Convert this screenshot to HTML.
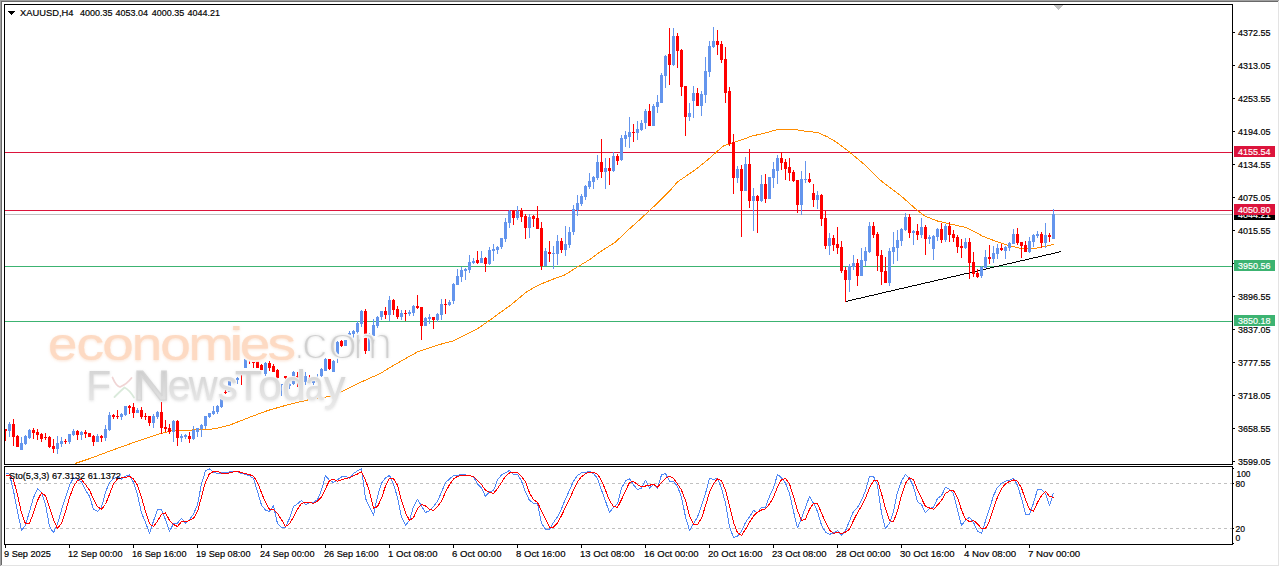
<!DOCTYPE html>
<html><head><meta charset="utf-8"><title>XAUUSD,H4</title>
<style>
html,body{margin:0;padding:0;background:#fff;}
body{width:1280px;height:567px;overflow:hidden;font-family:"Liberation Sans",sans-serif;}
svg{display:block;}
text{font-family:"Liberation Sans",sans-serif;}
</style></head><body>
<svg width="1280" height="567" viewBox="0 0 1280 567">
<defs>
<filter id="wb" x="-5%" y="-20%" width="110%" height="140%"><feGaussianBlur stdDeviation="1.6"/></filter>
<filter id="wb3" x="-5%" y="-20%" width="110%" height="140%"><feGaussianBlur stdDeviation="0.4"/></filter>
<filter id="wb2" x="-5%" y="-20%" width="110%" height="140%"><feGaussianBlur stdDeviation="0.5"/></filter>
<linearGradient id="gg" x1="0" y1="0" x2="0" y2="1"><stop offset="0" stop-color="#d0d0d0"/><stop offset="1" stop-color="#eaeaea"/></linearGradient>
<linearGradient id="gg2" x1="0" y1="0" x2="0" y2="1"><stop offset="0" stop-color="#c9c9c9"/><stop offset="1" stop-color="#e6e6e6"/></linearGradient>
<mask id="mcom" maskUnits="userSpaceOnUse" x="288" y="322" width="112" height="48"><rect x="288" y="322" width="112" height="48" fill="#000"/><text x="294.37" y="359" font-size="46" textLength="10.28" lengthAdjust="spacingAndGlyphs" fill="#fff" stroke="#000" stroke-width="2.2">.</text><text x="301.17" y="359" font-size="46" textLength="26.69" lengthAdjust="spacingAndGlyphs" fill="#fff" stroke="#000" stroke-width="2.2">c</text><text x="327.42" y="359" font-size="46" textLength="30.30" lengthAdjust="spacingAndGlyphs" fill="#fff" stroke="#000" stroke-width="2.2">o</text><text x="352.63" y="359" font-size="46" textLength="40.11" lengthAdjust="spacingAndGlyphs" fill="#fff" stroke="#000" stroke-width="2.2">m</text></mask>
</defs>
<rect width="1280" height="567" fill="#fff"/>
<!-- window frame -->
<g shape-rendering="crispEdges">
<rect x="0" y="0" width="1279" height="1" fill="#a0a0a0"/>
<rect x="0" y="0" width="1" height="566" fill="#a0a0a0"/>
<rect x="1" y="1" width="1277" height="1" fill="#696969"/>
<rect x="1" y="1" width="1" height="564" fill="#696969"/>
<rect x="1278" y="1" width="1" height="565" fill="#e3e3e3"/>
<rect x="1" y="565" width="1278" height="1" fill="#e3e3e3"/>
<!-- bid line -->
<rect x="5" y="214" width="1227" height="1" fill="#c0c0c0"/>
<!-- horizontal levels -->
<rect x="5" y="152" width="1227" height="1" fill="#dc143c"/>
<rect x="5" y="210" width="1227" height="1" fill="#dc143c"/>
<rect x="5" y="266" width="1227" height="1" fill="#3cb371"/>
<rect x="5" y="321" width="1227" height="1" fill="#3cb371"/>
<!-- MA -->
<polyline points="75.0,463.5 90.0,458.5 110.0,451.0 135.0,442.0 160.0,433.8 171.0,431.0 180.0,430.4 210.0,429.4 217.5,428.1 230.0,425.0 247.5,418.1 267.5,410.6 285.0,405.6 307.5,400.0 317.5,398.8 330.0,396.2 341.0,392.0 357.5,383.8 370.0,378.0 379.8,373.8 390.0,367.5 401.9,360.6 417.5,351.9 440.0,344.4 452.5,341.2 465.0,335.0 477.5,328.8 490.0,320.0 499.8,312.9 510.0,305.6 527.5,291.2 540.0,284.4 552.5,279.4 565.0,274.8 577.5,266.9 590.0,259.4 601.9,250.6 615.0,242.5 627.5,230.6 640.0,219.4 649.8,210.4 660.0,200.5 670.0,190.6 677.5,181.9 695.0,170.0 707.5,160.0 717.5,151.2 723.8,145.6 729.8,143.8 740.0,140.4 752.5,135.9 765.0,133.1 776.0,130.0 783.8,129.4 795.0,129.4 805.0,131.2 817.5,132.5 827.5,136.9 836.0,141.9 850.0,152.5 865.0,165.0 880.0,180.0 900.0,195.0 917.5,210.6 925.0,216.2 937.5,221.0 950.0,224.0 965.0,227.2 975.0,231.9 982.5,236.2 992.5,240.0 1005.0,244.4 1011.0,246.2 1017.0,247.5 1021.0,248.6 1034.0,248.6 1039.0,247.5 1045.0,246.4 1050.0,245.3 1053.5,244.2" fill="none" stroke="#ff8c00" stroke-width="1" stroke-linejoin="round"/>
</g>
<!-- trend line -->
<path d="M846 301h2v1h-2zM848 300h4v1h-4zM852 299h4v1h-4zM856 298h5v1h-5zM861 297h4v1h-4zM865 296h4v1h-4zM869 295h5v1h-5zM874 294h4v1h-4zM878 293h4v1h-4zM882 292h4v1h-4zM886 291h5v1h-5zM891 290h4v1h-4zM895 289h4v1h-4zM899 288h5v1h-5zM904 287h4v1h-4zM908 286h4v1h-4zM912 285h5v1h-5zM917 284h4v1h-4zM921 283h4v1h-4zM925 282h5v1h-5zM930 281h4v1h-4zM934 280h4v1h-4zM938 279h5v1h-5zM943 278h4v1h-4zM947 277h4v1h-4zM951 276h5v1h-5zM956 275h4v1h-4zM960 274h4v1h-4zM964 273h5v1h-5zM969 272h4v1h-4zM973 271h4v1h-4zM977 270h5v1h-5zM982 269h4v1h-4zM986 268h4v1h-4zM990 267h4v1h-4zM994 266h5v1h-5zM999 265h4v1h-4zM1003 264h4v1h-4zM1007 263h5v1h-5zM1012 262h4v1h-4zM1016 261h4v1h-4zM1020 260h5v1h-5zM1025 259h4v1h-4zM1029 258h4v1h-4zM1033 257h5v1h-5zM1038 256h4v1h-4zM1042 255h4v1h-4zM1046 254h5v1h-5zM1051 253h4v1h-4zM1055 252h4v1h-4zM1059 251h2v1h-2z" fill="#000" shape-rendering="crispEdges"/>
<g shape-rendering="crispEdges">
<!-- candles -->
<path d="M9 422h1v15h-1zM8 424h3v7h-3zM21 437h1v13h-1zM20 443h3v7h-3zM25 435h1v10h-1zM24 436h3v8h-3zM29 429h1v10h-1zM28 430h3v8h-3zM57 436h1v18h-1zM56 443h3v6h-3zM61 437h1v10h-1zM60 441h3v3h-3zM69 434h1v10h-1zM68 434h3v8h-3zM73 429h1v7h-1zM72 431h3v4h-3zM81 431h1v9h-1zM80 432h3v3h-3zM97 434h1v8h-1zM96 436h3v6h-3zM105 425h1v16h-1zM104 429h3v9h-3zM109 412h1v19h-1zM108 415h3v15h-3zM121 413h1v7h-1zM120 414h3v3h-3zM125 406h1v10h-1zM124 406h3v9h-3zM137 408h1v5h-1zM136 410h3v3h-3zM153 414h1v14h-1zM152 416h3v7h-3zM157 411h1v8h-1zM156 412h3v5h-3zM173 420h1v22h-1zM172 421h3v11h-3zM181 434h1v8h-1zM180 436h3v2h-3zM185 434h1v5h-1zM184 435h3v2h-3zM193 426h1v14h-1zM192 430h3v9h-3zM197 428h1v9h-1zM196 428h3v4h-3zM201 424h1v13h-1zM200 425h3v4h-3zM205 416h1v13h-1zM204 416h3v10h-3zM209 413h1v5h-1zM208 413h3v4h-3zM213 406h1v9h-1zM212 411h3v3h-3zM217 405h1v9h-1zM216 406h3v6h-3zM221 398h1v10h-1zM220 399h3v8h-3zM229 381h1v11h-1zM228 381h3v11h-3zM233 378h1v6h-1zM232 379h3v4h-3zM237 377h1v7h-1zM236 378h3v2h-3zM245 358h1v10h-1zM244 359h3v9h-3zM265 362h1v14h-1zM264 363h3v11h-3zM281 384h1v12h-1zM280 384h3v1h-3zM289 382h1v7h-1zM288 384h3v2h-3zM293 371h1v14h-1zM292 372h3v12h-3zM301 378h1v6h-1zM300 379h3v3h-3zM305 372h1v13h-1zM304 376h3v6h-3zM313 380h1v5h-1zM312 381h3v2h-3zM317 374h1v8h-1zM316 380h3v2h-3zM321 368h1v9h-1zM320 369h3v7h-3zM325 358h1v13h-1zM324 359h3v12h-3zM333 360h1v12h-1zM332 361h3v11h-3zM337 341h1v22h-1zM336 342h3v13h-3zM345 340h1v6h-1zM344 340h3v6h-3zM349 331h1v7h-1zM348 333h3v3h-3zM353 330h1v8h-1zM352 331h3v3h-3zM357 321h1v15h-1zM356 323h3v9h-3zM361 310h1v17h-1zM360 311h3v13h-3zM369 333h1v18h-1zM368 334h3v17h-3zM373 319h1v17h-1zM372 325h3v11h-3zM377 316h1v12h-1zM376 317h3v9h-3zM381 311h1v9h-1zM380 311h3v6h-3zM389 296h1v25h-1zM388 300h3v15h-3zM401 310h1v10h-1zM400 313h3v4h-3zM409 310h1v6h-1zM408 312h3v2h-3zM413 305h1v11h-1zM412 306h3v7h-3zM425 317h1v9h-1zM424 318h3v8h-3zM429 314h1v10h-1zM428 317h3v2h-3zM437 313h1v9h-1zM436 314h3v6h-3zM441 299h1v21h-1zM440 304h3v11h-3zM449 300h1v6h-1zM448 302h3v3h-3zM453 283h1v21h-1zM452 284h3v17h-3zM457 269h1v16h-1zM456 276h3v9h-3zM461 267h1v15h-1zM460 270h3v7h-3zM465 268h1v12h-1zM464 269h3v2h-3zM469 255h1v18h-1zM468 262h3v8h-3zM473 258h1v6h-1zM472 261h3v2h-3zM481 251h1v12h-1zM480 258h3v5h-3zM489 247h1v18h-1zM488 250h3v14h-3zM493 244h1v17h-1zM492 249h3v2h-3zM497 246h1v8h-1zM496 247h3v3h-3zM501 238h1v11h-1zM500 238h3v9h-3zM505 218h1v24h-1zM504 222h3v17h-3zM509 210h1v18h-1zM508 211h3v12h-3zM517 206h1v14h-1zM516 211h3v7h-3zM529 214h1v24h-1zM528 217h3v11h-3zM545 248h1v18h-1zM544 251h3v15h-3zM553 246h1v23h-1zM552 253h3v1h-3zM557 235h1v30h-1zM556 241h3v13h-3zM565 226h1v30h-1zM564 244h3v6h-3zM569 227h1v21h-1zM568 232h3v13h-3zM573 205h1v30h-1zM572 209h3v23h-3zM577 195h1v21h-1zM576 203h3v7h-3zM581 194h1v12h-1zM580 196h3v8h-3zM585 185h1v15h-1zM584 186h3v11h-3zM589 173h1v16h-1zM588 181h3v6h-3zM593 176h1v13h-1zM592 177h3v5h-3zM597 155h1v25h-1zM596 162h3v16h-3zM605 158h1v31h-1zM604 168h3v4h-3zM613 152h1v20h-1zM612 156h3v15h-3zM621 135h1v26h-1zM620 138h3v22h-3zM625 131h1v16h-1zM624 135h3v4h-3zM629 117h1v31h-1zM628 132h3v5h-3zM637 121h1v19h-1zM636 129h3v4h-3zM641 120h1v11h-1zM640 123h3v7h-3zM645 109h1v20h-1zM644 111h3v12h-3zM653 104h1v22h-1zM652 106h3v20h-3zM657 95h1v18h-1zM656 102h3v5h-3zM661 73h1v30h-1zM660 75h3v28h-3zM665 55h1v33h-1zM664 56h3v20h-3zM673 28h1v38h-1zM672 36h3v29h-3zM689 103h1v18h-1zM688 113h3v4h-3zM693 86h1v32h-1zM692 93h3v8h-3zM701 91h1v25h-1zM700 94h3v12h-3zM705 57h1v46h-1zM704 71h3v24h-3zM709 41h1v36h-1zM708 46h3v26h-3zM713 27h1v21h-1zM712 41h3v6h-3zM737 166h1v17h-1zM736 169h3v9h-3zM745 157h1v34h-1zM744 164h3v27h-3zM753 188h1v43h-1zM752 196h3v5h-3zM761 175h1v27h-1zM760 184h3v17h-3zM769 177h1v22h-1zM768 177h3v22h-3zM773 162h1v26h-1zM772 169h3v9h-3zM777 155h1v29h-1zM776 158h3v13h-3zM801 171h1v44h-1zM800 179h3v26h-3zM805 161h1v22h-1zM804 179h3v1h-3zM817 191h1v18h-1zM816 195h3v5h-3zM829 233h1v22h-1zM828 238h3v8h-3zM849 264h1v28h-1zM848 266h3v14h-3zM853 255h1v15h-1zM852 263h3v4h-3zM861 248h1v28h-1zM860 260h3v16h-3zM865 247h1v19h-1zM864 251h3v10h-3zM869 222h1v31h-1zM868 226h3v26h-3zM889 248h1v38h-1zM888 251h3v32h-3zM893 232h1v32h-1zM892 247h3v5h-3zM897 230h1v31h-1zM896 240h3v8h-3zM901 228h1v18h-1zM900 229h3v12h-3zM905 213h1v18h-1zM904 217h3v13h-3zM913 230h1v15h-1zM912 231h3v2h-3zM921 218h1v20h-1zM920 227h3v8h-3zM929 235h1v9h-1zM928 237h3v2h-3zM933 235h1v25h-1zM932 236h3v13h-3zM937 228h1v13h-1zM936 229h3v8h-3zM945 224h1v18h-1zM944 226h3v14h-3zM965 238h1v11h-1zM964 242h3v6h-3zM981 266h1v12h-1zM980 267h3v9h-3zM985 250h1v18h-1zM984 257h3v11h-3zM993 246h1v17h-1zM992 253h3v6h-3zM997 244h1v15h-1zM996 248h3v6h-3zM1005 246h1v13h-1zM1004 247h3v4h-3zM1009 242h1v9h-1zM1008 243h3v5h-3zM1013 229h1v15h-1zM1012 234h3v10h-3zM1029 237h1v16h-1zM1028 241h3v11h-3zM1033 234h1v13h-1zM1032 235h3v7h-3zM1037 231h1v7h-1zM1036 234h3v2h-3zM1045 223h1v25h-1zM1044 235h3v8h-3zM1053 209h1v30h-1zM1052 214h3v25h-3z" fill="#6495ed"/>
<path d="M5 429h1v12h-1zM4 429h3v2h-3zM13 419h1v27h-1zM12 424h3v13h-3zM17 435h1v12h-1zM16 436h3v11h-3zM33 428h1v11h-1zM32 430h3v3h-3zM37 429h1v11h-1zM36 432h3v3h-3zM41 433h1v9h-1zM40 434h3v5h-3zM45 433h1v7h-1zM44 437h3v1h-3zM49 436h1v12h-1zM48 437h3v10h-3zM53 439h1v14h-1zM52 446h3v3h-3zM65 439h1v5h-1zM64 441h3v1h-3zM77 430h1v10h-1zM76 431h3v4h-3zM85 430h1v8h-1zM84 432h3v2h-3zM89 433h1v4h-1zM88 433h3v4h-3zM93 435h1v11h-1zM92 436h3v6h-3zM101 435h1v7h-1zM100 436h3v2h-3zM113 414h1v5h-1zM112 415h3v2h-3zM117 410h1v9h-1zM116 416h3v1h-3zM129 405h1v9h-1zM128 406h3v2h-3zM133 403h1v15h-1zM132 407h3v6h-3zM141 407h1v12h-1zM140 410h3v7h-3zM145 413h1v7h-1zM144 416h3v1h-3zM149 416h1v10h-1zM148 416h3v7h-3zM161 402h1v32h-1zM160 412h3v16h-3zM165 420h1v12h-1zM164 427h3v2h-3zM169 424h1v10h-1zM168 428h3v4h-3zM177 420h1v26h-1zM176 421h3v17h-3zM189 432h1v11h-1zM188 436h3v3h-3zM225 389h1v5h-1zM224 392h3v1h-3zM241 370h1v15h-1zM240 371h3v3h-3zM249 359h1v5h-1zM248 359h3v2h-3zM253 361h1v7h-1zM252 361h3v2h-3zM257 361h1v7h-1zM256 361h3v7h-3zM261 364h1v10h-1zM260 365h3v5h-3zM269 361h1v10h-1zM268 363h3v5h-3zM273 364h1v8h-1zM272 366h3v6h-3zM277 369h1v10h-1zM276 370h3v8h-3zM285 376h1v4h-1zM284 376h3v2h-3zM297 372h1v15h-1zM296 376h3v6h-3zM309 375h1v9h-1zM308 378h3v4h-3zM329 359h1v11h-1zM328 359h3v10h-3zM341 340h1v7h-1zM340 341h3v5h-3zM365 309h1v45h-1zM364 311h3v40h-3zM385 307h1v12h-1zM384 311h3v4h-3zM393 299h1v16h-1zM392 300h3v10h-3zM397 306h1v13h-1zM396 309h3v8h-3zM405 310h1v11h-1zM404 313h3v1h-3zM417 295h1v14h-1zM416 306h3v2h-3zM421 307h1v33h-1zM420 307h3v19h-3zM433 317h1v12h-1zM432 317h3v3h-3zM445 299h1v15h-1zM444 304h3v1h-3zM477 251h1v13h-1zM476 260h3v3h-3zM485 257h1v15h-1zM484 258h3v6h-3zM513 210h1v15h-1zM512 211h3v7h-3zM521 208h1v14h-1zM520 210h3v7h-3zM525 214h1v25h-1zM524 216h3v12h-3zM533 215h1v12h-1zM532 216h3v3h-3zM537 206h1v23h-1zM536 218h3v11h-3zM541 222h1v48h-1zM540 228h3v38h-3zM549 241h1v21h-1zM548 252h3v2h-3zM561 238h1v15h-1zM560 241h3v9h-3zM601 139h1v39h-1zM600 162h3v10h-3zM609 158h1v27h-1zM608 168h3v3h-3zM617 154h1v11h-1zM616 156h3v5h-3zM633 124h1v18h-1zM632 132h3v1h-3zM649 104h1v22h-1zM648 111h3v15h-3zM669 28h1v57h-1zM668 54h3v11h-3zM677 33h1v35h-1zM676 36h3v15h-3zM681 49h1v47h-1zM680 50h3v37h-3zM685 86h1v50h-1zM684 86h3v31h-3zM697 88h1v18h-1zM696 93h3v13h-3zM717 30h1v25h-1zM716 41h3v4h-3zM721 41h1v22h-1zM720 44h3v16h-3zM725 47h1v56h-1zM724 59h3v34h-3zM729 87h1v59h-1zM728 91h3v53h-3zM733 134h1v60h-1zM732 142h3v36h-3zM741 165h1v72h-1zM740 169h3v22h-3zM749 149h1v59h-1zM748 164h3v37h-3zM757 195h1v38h-1zM756 196h3v5h-3zM765 174h1v29h-1zM764 184h3v15h-3zM781 152h1v18h-1zM780 158h3v5h-3zM785 159h1v21h-1zM784 162h3v7h-3zM789 158h1v23h-1zM788 167h3v6h-3zM793 170h1v12h-1zM792 172h3v9h-3zM797 180h1v33h-1zM796 180h3v25h-3zM809 173h1v10h-1zM808 179h3v3h-3zM813 184h1v23h-1zM812 193h3v7h-3zM821 194h1v32h-1zM820 195h3v24h-3zM825 211h1v38h-1zM824 218h3v28h-3zM833 235h1v16h-1zM832 238h3v7h-3zM837 227h1v27h-1zM836 244h3v4h-3zM841 241h1v32h-1zM840 247h3v24h-3zM845 267h1v35h-1zM844 270h3v10h-3zM857 259h1v27h-1zM856 263h3v13h-3zM873 222h1v16h-1zM872 226h3v9h-3zM877 232h1v39h-1zM876 234h3v22h-3zM881 250h1v35h-1zM880 255h3v17h-3zM885 257h1v26h-1zM884 271h3v12h-3zM909 214h1v24h-1zM908 217h3v16h-3zM917 224h1v16h-1zM916 231h3v4h-3zM925 225h1v30h-1zM924 227h3v12h-3zM941 223h1v20h-1zM940 229h3v11h-3zM949 222h1v20h-1zM948 226h3v9h-3zM953 230h1v12h-1zM952 234h3v4h-3zM957 235h1v18h-1zM956 237h3v10h-3zM961 239h1v19h-1zM960 246h3v2h-3zM969 238h1v41h-1zM968 242h3v21h-3zM973 252h1v25h-1zM972 262h3v12h-3zM977 269h1v9h-1zM976 273h3v4h-3zM989 245h1v19h-1zM988 257h3v2h-3zM1001 244h1v7h-1zM1000 248h3v2h-3zM1017 228h1v17h-1zM1016 234h3v9h-3zM1021 242h1v16h-1zM1020 242h3v4h-3zM1025 241h1v11h-1zM1024 245h3v7h-3zM1041 232h1v16h-1zM1040 234h3v9h-3zM1049 233h1v9h-1zM1048 235h3v2h-3z" fill="#ff0000"/>
</g>
<!-- watermark -->
<g id="wm">
<g filter="url(#wb3)" fill="#fff" stroke="#fff" stroke-width="4" stroke-linejoin="round">
<text x="47.99" y="360" font-size="45.5" textLength="29.35" lengthAdjust="spacingAndGlyphs" >e</text>
<text x="76.40" y="360" font-size="45.5" textLength="27.56" lengthAdjust="spacingAndGlyphs" >c</text>
<text x="102.33" y="360" font-size="45.5" textLength="31.60" lengthAdjust="spacingAndGlyphs" >o</text>
<text x="131.87" y="360" font-size="45.5" textLength="30.46" lengthAdjust="spacingAndGlyphs" >n</text>
<text x="160.30" y="360" font-size="45.5" textLength="30.65" lengthAdjust="spacingAndGlyphs" >o</text>
<text x="188.40" y="360" font-size="45.5" textLength="45.23" lengthAdjust="spacingAndGlyphs" >m</text>
<text x="228.68" y="360" font-size="45.5" textLength="15.00" lengthAdjust="spacingAndGlyphs" >i</text>
<text x="239.70" y="360" font-size="45.5" textLength="30.53" lengthAdjust="spacingAndGlyphs" >e</text>
<text x="267.58" y="360" font-size="45.5" textLength="28.60" lengthAdjust="spacingAndGlyphs" >s</text>
<text x="294.37" y="359" font-size="46" textLength="10.28" lengthAdjust="spacingAndGlyphs" stroke-width="1.0">.</text>
<text x="301.17" y="359" font-size="46" textLength="26.69" lengthAdjust="spacingAndGlyphs" stroke-width="1.0">c</text>
<text x="327.42" y="359" font-size="46" textLength="30.30" lengthAdjust="spacingAndGlyphs" stroke-width="1.0">o</text>
<text x="352.63" y="359" font-size="46" textLength="40.11" lengthAdjust="spacingAndGlyphs" stroke-width="1.0">m</text>
<text x="86.13" y="400" font-size="42" textLength="24.94" lengthAdjust="spacingAndGlyphs" stroke-width="2.2">F</text>
<text x="167.75" y="400" font-size="42" textLength="22.90" lengthAdjust="spacingAndGlyphs" stroke-width="2.2">e</text>
<text x="188.75" y="400" font-size="42" textLength="28.84" lengthAdjust="spacingAndGlyphs" stroke-width="2.2">w</text>
<text x="217.53" y="400" font-size="42" textLength="20.35" lengthAdjust="spacingAndGlyphs" stroke-width="2.2">s</text>
<text x="234.70" y="400" font-size="42" textLength="27.49" lengthAdjust="spacingAndGlyphs" stroke-width="2.2">T</text>
<text x="258.30" y="400" font-size="42" textLength="23.67" lengthAdjust="spacingAndGlyphs" stroke-width="2.2">o</text>
<text x="282.03" y="400" font-size="42" textLength="23.92" lengthAdjust="spacingAndGlyphs" stroke-width="2.2">d</text>
<text x="304.90" y="400" font-size="42" textLength="18.72" lengthAdjust="spacingAndGlyphs" stroke-width="2.2">a</text>
<text x="323.75" y="400" font-size="42" textLength="21.85" lengthAdjust="spacingAndGlyphs" stroke-width="2.2">y</text>
<text x="132.82" y="400" font-size="42" textLength="37.72" lengthAdjust="spacingAndGlyphs" stroke-width="2.2">N</text>
<path d="M112.5 377.5 q3.5 8.5 7.5 9.5 q7 -3 11.5 -9M114.5 397 q6 -6 10 -9.5 q5 2.5 9.5 10" fill="none" stroke-width="5"/>
</g>
<g filter="url(#wb)" opacity="0.5">
<text x="47.99" y="361" font-size="45.5" textLength="29.35" lengthAdjust="spacingAndGlyphs" fill="#f6c4a2">e</text>
<text x="76.40" y="361" font-size="45.5" textLength="27.56" lengthAdjust="spacingAndGlyphs" fill="#f6c4a2">c</text>
<text x="102.33" y="361" font-size="45.5" textLength="31.60" lengthAdjust="spacingAndGlyphs" fill="#f6c4a2">o</text>
<text x="131.87" y="361" font-size="45.5" textLength="30.46" lengthAdjust="spacingAndGlyphs" fill="#f6c4a2">n</text>
<text x="160.30" y="361" font-size="45.5" textLength="30.65" lengthAdjust="spacingAndGlyphs" fill="#f6c4a2">o</text>
<text x="188.40" y="361" font-size="45.5" textLength="45.23" lengthAdjust="spacingAndGlyphs" fill="#f6c4a2">m</text>
<text x="228.68" y="361" font-size="45.5" textLength="15.00" lengthAdjust="spacingAndGlyphs" fill="#f6c4a2">i</text>
<text x="239.70" y="361" font-size="45.5" textLength="30.53" lengthAdjust="spacingAndGlyphs" fill="#f6c4a2">e</text>
<text x="267.58" y="361" font-size="45.5" textLength="28.60" lengthAdjust="spacingAndGlyphs" fill="#f6c4a2">s</text>
<rect x="288" y="323" width="112" height="48" fill="#a8a8a8" mask="url(#mcom)"/>
<text x="86.13" y="401" font-size="42" textLength="24.94" lengthAdjust="spacingAndGlyphs" fill="#bdbdbd">F</text>
<text x="167.75" y="401" font-size="42" textLength="22.90" lengthAdjust="spacingAndGlyphs" fill="#bdbdbd">e</text>
<text x="188.75" y="401" font-size="42" textLength="28.84" lengthAdjust="spacingAndGlyphs" fill="#bdbdbd">w</text>
<text x="217.53" y="401" font-size="42" textLength="20.35" lengthAdjust="spacingAndGlyphs" fill="#bdbdbd">s</text>
<text x="234.70" y="401" font-size="42" textLength="27.49" lengthAdjust="spacingAndGlyphs" fill="#bdbdbd">T</text>
<text x="258.30" y="401" font-size="42" textLength="23.67" lengthAdjust="spacingAndGlyphs" fill="#bdbdbd">o</text>
<text x="282.03" y="401" font-size="42" textLength="23.92" lengthAdjust="spacingAndGlyphs" fill="#bdbdbd">d</text>
<text x="304.90" y="401" font-size="42" textLength="18.72" lengthAdjust="spacingAndGlyphs" fill="#bdbdbd">a</text>
<text x="323.75" y="401" font-size="42" textLength="21.85" lengthAdjust="spacingAndGlyphs" fill="#bdbdbd">y</text>
<text x="132.82" y="401" font-size="42" textLength="37.72" lengthAdjust="spacingAndGlyphs" fill="#b4b4b4" stroke="#b4b4b4" stroke-width="1.0">N</text>
</g>
<g filter="url(#wb2)">
<text x="47.99" y="360" font-size="45.5" textLength="29.35" lengthAdjust="spacingAndGlyphs" fill="#fddac3" stroke="#fddac3" stroke-width="0.2">e</text>
<text x="76.40" y="360" font-size="45.5" textLength="27.56" lengthAdjust="spacingAndGlyphs" fill="#fddac3" stroke="#fddac3" stroke-width="0.2">c</text>
<text x="102.33" y="360" font-size="45.5" textLength="31.60" lengthAdjust="spacingAndGlyphs" fill="#fddac3" stroke="#fddac3" stroke-width="0.2">o</text>
<text x="131.87" y="360" font-size="45.5" textLength="30.46" lengthAdjust="spacingAndGlyphs" fill="#fddac3" stroke="#fddac3" stroke-width="0.2">n</text>
<text x="160.30" y="360" font-size="45.5" textLength="30.65" lengthAdjust="spacingAndGlyphs" fill="#fddac3" stroke="#fddac3" stroke-width="0.2">o</text>
<text x="188.40" y="360" font-size="45.5" textLength="45.23" lengthAdjust="spacingAndGlyphs" fill="#fddac3" stroke="#fddac3" stroke-width="0.2">m</text>
<text x="228.68" y="360" font-size="45.5" textLength="15.00" lengthAdjust="spacingAndGlyphs" fill="#fddac3" stroke="#fddac3" stroke-width="0.2">i</text>
<text x="239.70" y="360" font-size="45.5" textLength="30.53" lengthAdjust="spacingAndGlyphs" fill="#fddac3" stroke="#fddac3" stroke-width="0.2">e</text>
<text x="267.58" y="360" font-size="45.5" textLength="28.60" lengthAdjust="spacingAndGlyphs" fill="#fddac3" stroke="#fddac3" stroke-width="0.2">s</text>
<rect x="288" y="322" width="112" height="48" fill="#d0d0d0" mask="url(#mcom)"/>
<text x="86.13" y="400" font-size="42" textLength="24.94" lengthAdjust="spacingAndGlyphs" fill="url(#gg)">F</text>
<text x="167.75" y="400" font-size="42" textLength="22.90" lengthAdjust="spacingAndGlyphs" fill="url(#gg)">e</text>
<text x="188.75" y="400" font-size="42" textLength="28.84" lengthAdjust="spacingAndGlyphs" fill="url(#gg)">w</text>
<text x="217.53" y="400" font-size="42" textLength="20.35" lengthAdjust="spacingAndGlyphs" fill="url(#gg)">s</text>
<text x="234.70" y="400" font-size="42" textLength="27.49" lengthAdjust="spacingAndGlyphs" fill="url(#gg)">T</text>
<text x="258.30" y="400" font-size="42" textLength="23.67" lengthAdjust="spacingAndGlyphs" fill="url(#gg)">o</text>
<text x="282.03" y="400" font-size="42" textLength="23.92" lengthAdjust="spacingAndGlyphs" fill="url(#gg)">d</text>
<text x="304.90" y="400" font-size="42" textLength="18.72" lengthAdjust="spacingAndGlyphs" fill="url(#gg)">a</text>
<text x="323.75" y="400" font-size="42" textLength="21.85" lengthAdjust="spacingAndGlyphs" fill="url(#gg)">y</text>
<text x="132.82" y="400" font-size="42" textLength="37.72" lengthAdjust="spacingAndGlyphs" fill="url(#gg2)" stroke="#d6d6d6" stroke-width="1.0">N</text>
<path d="M112.5 377.5 q3.5 8.5 7.5 9.5 q7 -3 11.5 -9" fill="none" stroke="#f0d4d4" stroke-width="1.8" stroke-linecap="round"/>
<path d="M114.5 397 q6 -6 10 -9.5 q5 2.5 9.5 10" fill="none" stroke="#daeadb" stroke-width="1.8" stroke-linecap="round"/>
</g>
</g>
<g shape-rendering="crispEdges">
<!-- main chart border -->
<rect x="4" y="4" width="1229" height="1" fill="#000"/>
<rect x="4" y="4" width="1" height="461" fill="#000"/>
<rect x="4" y="464" width="1229" height="1" fill="#000"/>
<rect x="1232" y="4" width="1" height="461" fill="#000"/>
<rect x="1232" y="466" width="1" height="79" fill="#000"/>
<!-- sub window border -->
<rect x="4" y="466" width="1229" height="1" fill="#000"/>
<rect x="4" y="466" width="1" height="79" fill="#000"/>
<rect x="4" y="544" width="1229" height="1" fill="#000"/>
<!-- shift marker -->
<path d="M1054 5h9v1h-1v1h-1v1h-1v1h-1v1h-1v-1h-1v-1h-1v-1h-1v-1h-1z" fill="#c0c0c0"/>
<!-- header triangle -->
<path d="M8 11h7v1h-1v1h-1v1h-1v1h-1v-1h-1v-1h-1v-1h-1z" fill="#000"/>
<!-- stochastic levels -->
<line x1="6" y1="483.5" x2="1232" y2="483.5" stroke="#c0c0c0" stroke-width="1" stroke-dasharray="3 3"/>
<line x1="6" y1="528.5" x2="1232" y2="528.5" stroke="#c0c0c0" stroke-width="1" stroke-dasharray="3 3"/>
</g>
<polyline points="5.5,472.9 9.5,474.3 13.5,490.8 17.5,511.4 21.5,530.4 25.5,525.2 29.5,511.4 33.5,497.6 37.5,488.7 41.5,492.8 45.5,504.5 49.5,526.5 53.5,532.7 57.5,523.8 61.5,510.0 65.5,497.6 69.5,485.3 73.5,477.7 77.5,479.1 81.5,481.8 85.5,490.1 89.5,496.3 93.5,509.3 97.5,511.4 101.5,507.3 105.5,492.1 109.5,482.5 113.5,478.4 117.5,477.0 121.5,479.1 125.5,476.3 129.5,474.9 133.5,482.5 137.5,494.9 141.5,512.8 145.5,522.4 149.5,533.4 153.5,521.0 157.5,509.8 161.5,509.8 165.5,519.7 169.5,531.4 173.5,523.5 177.5,523.1 181.5,518.3 185.5,523.1 189.5,519.7 193.5,514.2 197.5,504.5 201.5,483.9 205.5,470.8 209.5,469.0 213.5,472.2 217.5,473.6 221.5,472.9 225.5,472.9 229.5,471.8 233.5,471.5 237.5,471.8 241.5,473.6 245.5,474.3 249.5,475.9 253.5,478.4 257.5,491.5 261.5,505.2 265.5,510.0 269.5,511.4 273.5,505.6 277.5,523.8 281.5,527.2 285.5,527.2 289.5,518.3 293.5,506.6 297.5,503.8 301.5,500.4 305.5,504.5 309.5,502.9 313.5,502.5 317.5,499.7 321.5,490.1 325.5,475.6 329.5,480.4 333.5,482.5 337.5,479.8 341.5,477.0 345.5,476.3 349.5,478.4 353.5,473.6 357.5,470.8 361.5,469.0 365.5,498.3 369.5,507.3 373.5,515.3 377.5,496.3 381.5,483.2 385.5,477.7 389.5,475.4 393.5,483.9 397.5,497.6 401.5,516.9 405.5,525.4 409.5,520.4 413.5,506.6 417.5,499.3 421.5,505.9 425.5,512.5 429.5,510.7 433.5,506.6 437.5,501.1 441.5,492.1 445.5,482.5 449.5,479.1 453.5,475.4 457.5,475.4 461.5,474.5 465.5,474.9 469.5,475.4 473.5,477.0 477.5,483.9 481.5,488.0 485.5,496.5 489.5,491.5 493.5,490.8 497.5,479.8 501.5,474.9 505.5,472.9 509.5,470.4 513.5,474.3 517.5,474.3 521.5,481.1 525.5,492.1 529.5,500.4 533.5,503.2 537.5,503.4 541.5,523.1 545.5,529.3 549.5,529.3 553.5,522.4 557.5,516.9 561.5,508.7 565.5,499.0 569.5,490.1 573.5,481.1 577.5,475.4 581.5,472.9 585.5,472.2 589.5,471.5 593.5,473.6 597.5,478.4 601.5,490.1 605.5,501.1 609.5,512.5 613.5,507.3 617.5,503.8 621.5,488.0 625.5,481.1 629.5,478.7 633.5,485.0 637.5,489.4 641.5,488.0 645.5,480.4 649.5,488.0 653.5,484.6 657.5,488.0 661.5,474.9 665.5,473.6 669.5,481.1 673.5,481.4 677.5,486.6 681.5,497.0 685.5,516.9 689.5,530.4 693.5,523.8 697.5,516.9 701.5,505.9 705.5,493.5 709.5,478.1 713.5,479.5 717.5,478.4 721.5,488.0 725.5,503.2 729.5,526.5 733.5,537.6 737.5,536.2 741.5,531.4 745.5,522.4 749.5,516.9 753.5,510.3 757.5,512.8 761.5,507.3 765.5,507.3 769.5,496.3 773.5,488.0 777.5,474.5 781.5,477.7 785.5,483.2 789.5,493.5 793.5,511.4 797.5,527.9 801.5,518.3 805.5,507.3 809.5,496.5 813.5,503.2 817.5,511.4 821.5,525.2 825.5,532.1 829.5,534.5 833.5,532.7 837.5,530.7 841.5,535.1 845.5,530.7 849.5,521.0 853.5,511.4 857.5,507.3 861.5,500.4 865.5,490.8 869.5,476.3 873.5,476.3 877.5,485.3 881.5,512.8 885.5,528.6 889.5,523.1 893.5,511.4 897.5,492.1 901.5,481.1 905.5,474.3 909.5,478.4 913.5,486.6 917.5,501.8 921.5,504.5 925.5,512.8 929.5,508.7 933.5,507.3 937.5,498.3 941.5,495.6 945.5,487.3 949.5,489.4 953.5,493.5 957.5,510.0 961.5,525.4 965.5,520.4 969.5,517.2 973.5,522.4 977.5,531.4 981.5,533.4 985.5,521.0 989.5,508.7 993.5,495.6 997.5,487.3 1001.5,483.2 1005.5,481.1 1009.5,480.4 1013.5,478.1 1017.5,485.3 1021.5,498.3 1025.5,514.2 1029.5,514.2 1033.5,503.2 1037.5,489.4 1041.5,489.4 1045.5,493.5 1049.5,505.9 1053.5,492.8" fill="none" stroke="#5088f5" stroke-width="1" stroke-linejoin="round" shape-rendering="crispEdges"/>
<polyline points="5.5,475.4 9.5,475.4 13.5,479.8 17.5,494.9 21.5,512.8 25.5,523.8 29.5,523.1 33.5,512.8 37.5,500.4 41.5,492.8 45.5,495.6 49.5,507.3 53.5,519.7 57.5,528.6 61.5,523.1 65.5,511.4 69.5,497.6 73.5,486.6 77.5,480.4 81.5,479.5 85.5,484.6 89.5,490.1 93.5,499.0 97.5,506.6 101.5,509.3 105.5,504.5 109.5,494.2 113.5,483.9 117.5,479.1 121.5,477.7 125.5,477.3 129.5,476.3 133.5,479.1 137.5,485.3 141.5,497.6 145.5,511.4 149.5,523.8 153.5,526.5 157.5,521.0 161.5,514.2 165.5,512.8 169.5,520.4 173.5,524.5 177.5,526.5 181.5,521.7 185.5,521.7 189.5,520.4 193.5,518.3 197.5,511.4 201.5,497.0 205.5,481.8 209.5,473.6 213.5,471.5 217.5,471.5 221.5,473.2 225.5,473.6 229.5,472.9 233.5,471.8 237.5,471.5 241.5,472.5 245.5,473.6 249.5,474.5 253.5,476.3 257.5,482.5 261.5,492.8 265.5,502.5 269.5,509.3 273.5,509.3 277.5,513.5 281.5,519.7 285.5,526.5 289.5,523.8 293.5,516.9 297.5,509.3 301.5,503.2 305.5,502.5 309.5,502.5 313.5,503.2 317.5,501.1 321.5,497.0 325.5,488.7 329.5,480.4 333.5,479.5 337.5,481.1 341.5,479.8 345.5,478.4 349.5,477.7 353.5,475.6 357.5,474.0 361.5,471.5 365.5,480.4 369.5,491.5 373.5,508.4 377.5,506.6 381.5,498.3 385.5,486.0 389.5,478.4 393.5,478.7 397.5,485.3 401.5,500.4 405.5,512.8 409.5,520.4 413.5,517.6 417.5,508.7 421.5,504.3 425.5,505.9 429.5,509.3 433.5,510.3 437.5,506.6 441.5,501.1 445.5,492.1 449.5,484.6 453.5,479.1 457.5,476.3 461.5,475.4 465.5,475.4 469.5,475.4 473.5,476.7 477.5,480.4 481.5,484.6 485.5,490.1 489.5,492.1 493.5,493.5 497.5,488.7 501.5,482.5 505.5,476.3 509.5,472.9 513.5,472.2 517.5,472.6 521.5,476.3 525.5,481.8 529.5,492.8 533.5,499.7 537.5,502.5 541.5,510.7 545.5,519.0 549.5,527.2 553.5,527.2 557.5,523.1 561.5,515.5 565.5,507.3 569.5,499.0 573.5,490.1 577.5,481.8 581.5,476.7 585.5,473.6 589.5,472.2 593.5,472.2 597.5,474.3 601.5,480.4 605.5,490.1 609.5,500.4 613.5,506.6 617.5,507.3 621.5,499.7 625.5,490.8 629.5,482.5 633.5,481.4 637.5,484.6 641.5,486.9 645.5,486.0 649.5,485.3 653.5,484.2 657.5,487.3 661.5,482.5 665.5,478.4 669.5,476.3 673.5,478.4 677.5,483.9 681.5,490.1 685.5,500.4 689.5,515.5 693.5,524.5 697.5,524.5 701.5,518.3 705.5,505.9 709.5,492.1 713.5,483.9 717.5,478.7 721.5,480.9 725.5,490.1 729.5,505.9 733.5,522.4 737.5,532.7 741.5,535.5 745.5,529.3 749.5,522.4 753.5,516.2 757.5,512.1 761.5,510.0 765.5,508.9 769.5,503.8 773.5,497.4 777.5,486.6 781.5,479.8 785.5,478.4 789.5,483.9 793.5,496.3 797.5,510.7 801.5,520.4 805.5,519.0 809.5,509.3 813.5,503.4 817.5,503.8 821.5,512.8 825.5,522.4 829.5,530.0 833.5,533.4 837.5,532.3 841.5,533.4 845.5,532.1 849.5,529.3 853.5,520.4 857.5,512.8 861.5,505.9 865.5,498.3 869.5,488.0 873.5,480.9 877.5,480.4 881.5,493.5 885.5,508.7 889.5,520.4 893.5,521.7 897.5,510.7 901.5,495.6 905.5,483.2 909.5,477.7 913.5,479.8 917.5,490.1 921.5,498.3 925.5,506.6 929.5,508.0 933.5,509.3 937.5,505.2 941.5,500.4 945.5,493.5 949.5,490.8 953.5,490.5 957.5,497.6 961.5,510.0 965.5,519.0 969.5,521.7 973.5,520.4 977.5,523.8 981.5,528.6 985.5,528.6 989.5,521.0 993.5,508.7 997.5,497.0 1001.5,488.7 1005.5,483.9 1009.5,481.4 1013.5,480.0 1017.5,481.1 1021.5,488.0 1025.5,499.7 1029.5,509.3 1033.5,511.4 1037.5,502.5 1041.5,495.6 1045.5,491.5 1049.5,496.3 1053.5,497.6" fill="none" stroke="#ff0000" stroke-width="1" stroke-linejoin="round" shape-rendering="crispEdges"/>
<g shape-rendering="crispEdges">
<rect x="1233" y="32" width="2" height="1" fill="#000"/>
<text x="1238" y="36" font-size="9.6" fill="#000" stroke="#000" stroke-width="0.18" text-anchor="start" textLength="32.5" lengthAdjust="spacingAndGlyphs">4372.55</text>
<rect x="1233" y="65" width="2" height="1" fill="#000"/>
<text x="1238" y="69" font-size="9.6" fill="#000" stroke="#000" stroke-width="0.18" text-anchor="start" textLength="32.5" lengthAdjust="spacingAndGlyphs">4313.05</text>
<rect x="1233" y="98" width="2" height="1" fill="#000"/>
<text x="1238" y="102" font-size="9.6" fill="#000" stroke="#000" stroke-width="0.18" text-anchor="start" textLength="32.5" lengthAdjust="spacingAndGlyphs">4253.55</text>
<rect x="1233" y="131" width="2" height="1" fill="#000"/>
<text x="1238" y="135" font-size="9.6" fill="#000" stroke="#000" stroke-width="0.18" text-anchor="start" textLength="32.5" lengthAdjust="spacingAndGlyphs">4194.05</text>
<rect x="1233" y="164" width="2" height="1" fill="#000"/>
<text x="1238" y="168" font-size="9.6" fill="#000" stroke="#000" stroke-width="0.18" text-anchor="start" textLength="32.5" lengthAdjust="spacingAndGlyphs">4134.55</text>
<rect x="1233" y="197" width="2" height="1" fill="#000"/>
<text x="1238" y="201" font-size="9.6" fill="#000" stroke="#000" stroke-width="0.18" text-anchor="start" textLength="32.5" lengthAdjust="spacingAndGlyphs">4075.05</text>
<rect x="1233" y="230" width="2" height="1" fill="#000"/>
<text x="1238" y="234" font-size="9.6" fill="#000" stroke="#000" stroke-width="0.18" text-anchor="start" textLength="32.5" lengthAdjust="spacingAndGlyphs">4015.55</text>
<rect x="1233" y="263" width="2" height="1" fill="#000"/>
<text x="1238" y="267" font-size="9.6" fill="#000" stroke="#000" stroke-width="0.18" text-anchor="start" textLength="32.5" lengthAdjust="spacingAndGlyphs">3956.05</text>
<rect x="1233" y="296" width="2" height="1" fill="#000"/>
<text x="1238" y="300" font-size="9.6" fill="#000" stroke="#000" stroke-width="0.18" text-anchor="start" textLength="32.5" lengthAdjust="spacingAndGlyphs">3896.55</text>
<rect x="1233" y="329" width="2" height="1" fill="#000"/>
<text x="1238" y="333" font-size="9.6" fill="#000" stroke="#000" stroke-width="0.18" text-anchor="start" textLength="32.5" lengthAdjust="spacingAndGlyphs">3837.05</text>
<rect x="1233" y="362" width="2" height="1" fill="#000"/>
<text x="1238" y="366" font-size="9.6" fill="#000" stroke="#000" stroke-width="0.18" text-anchor="start" textLength="32.5" lengthAdjust="spacingAndGlyphs">3777.55</text>
<rect x="1233" y="395" width="2" height="1" fill="#000"/>
<text x="1238" y="399" font-size="9.6" fill="#000" stroke="#000" stroke-width="0.18" text-anchor="start" textLength="32.5" lengthAdjust="spacingAndGlyphs">3718.05</text>
<rect x="1233" y="428" width="2" height="1" fill="#000"/>
<text x="1238" y="432" font-size="9.6" fill="#000" stroke="#000" stroke-width="0.18" text-anchor="start" textLength="32.5" lengthAdjust="spacingAndGlyphs">3658.55</text>
<rect x="1233" y="461" width="2" height="1" fill="#000"/>
<text x="1238" y="465" font-size="9.6" fill="#000" stroke="#000" stroke-width="0.18" text-anchor="start" textLength="32.5" lengthAdjust="spacingAndGlyphs">3599.05</text>
<!-- price tags -->
<rect x="1234" y="209" width="41" height="11" fill="#000"/>
<text x="1238" y="218" font-size="9.6" fill="#fff" stroke="#fff" stroke-width="0.18" text-anchor="start" textLength="32.5" lengthAdjust="spacingAndGlyphs">4044.21</text>
<rect x="1234" y="146" width="41" height="11" fill="#dc143c"/>
<text x="1238" y="155" font-size="9.6" fill="#fff" stroke="#fff" stroke-width="0.18" text-anchor="start" textLength="32.5" lengthAdjust="spacingAndGlyphs">4155.54</text>
<rect x="1234" y="204" width="41" height="11" fill="#dc143c"/>
<text x="1238" y="213" font-size="9.6" fill="#fff" stroke="#fff" stroke-width="0.18" text-anchor="start" textLength="32.5" lengthAdjust="spacingAndGlyphs">4050.80</text>
<rect x="1234" y="260" width="41" height="11" fill="#3cb371"/>
<text x="1238" y="269" font-size="9.6" fill="#fff" stroke="#fff" stroke-width="0.18" text-anchor="start" textLength="32.5" lengthAdjust="spacingAndGlyphs">3950.56</text>
<rect x="1234" y="315" width="41" height="11" fill="#3cb371"/>
<text x="1238" y="324" font-size="9.6" fill="#fff" stroke="#fff" stroke-width="0.18" text-anchor="start" textLength="32.5" lengthAdjust="spacingAndGlyphs">3850.18</text>
<!-- sto axis -->
<rect x="1233" y="468" width="1" height="1" fill="#000"/>
<rect x="1233" y="483" width="1" height="1" fill="#000"/>
<rect x="1233" y="528" width="1" height="1" fill="#000"/>
<rect x="1233" y="543" width="1" height="1" fill="#000"/>
<text x="1236.5" y="477" font-size="9.6" fill="#000" stroke="#000" stroke-width="0.18" text-anchor="start" textLength="14" lengthAdjust="spacingAndGlyphs">100</text>
<text x="1235.5" y="487" font-size="9.6" fill="#000" stroke="#000" stroke-width="0.18" text-anchor="start" textLength="9.5" lengthAdjust="spacingAndGlyphs">80</text>
<text x="1235.5" y="532" font-size="9.6" fill="#000" stroke="#000" stroke-width="0.18" text-anchor="start" textLength="9.5" lengthAdjust="spacingAndGlyphs">20</text>
<text x="1235.5" y="541" font-size="9.6" fill="#000" stroke="#000" stroke-width="0.18" text-anchor="start" textLength="4.8" lengthAdjust="spacingAndGlyphs">0</text>
<rect x="5" y="545" width="1" height="3" fill="#000"/>
<text x="4" y="557" font-size="9.6" fill="#000" stroke="#000" stroke-width="0.18" text-anchor="start" textLength="46.9" lengthAdjust="spacingAndGlyphs">9 Sep 2025</text>
<rect x="69" y="545" width="1" height="3" fill="#000"/>
<text x="68" y="557" font-size="9.6" fill="#000" stroke="#000" stroke-width="0.18" text-anchor="start" textLength="54.5" lengthAdjust="spacingAndGlyphs">12 Sep 00:00</text>
<rect x="133" y="545" width="1" height="3" fill="#000"/>
<text x="132" y="557" font-size="9.6" fill="#000" stroke="#000" stroke-width="0.18" text-anchor="start" textLength="54.5" lengthAdjust="spacingAndGlyphs">16 Sep 16:00</text>
<rect x="197" y="545" width="1" height="3" fill="#000"/>
<text x="196" y="557" font-size="9.6" fill="#000" stroke="#000" stroke-width="0.18" text-anchor="start" textLength="54.5" lengthAdjust="spacingAndGlyphs">19 Sep 08:00</text>
<rect x="261" y="545" width="1" height="3" fill="#000"/>
<text x="260" y="557" font-size="9.6" fill="#000" stroke="#000" stroke-width="0.18" text-anchor="start" textLength="54.5" lengthAdjust="spacingAndGlyphs">24 Sep 00:00</text>
<rect x="325" y="545" width="1" height="3" fill="#000"/>
<text x="324" y="557" font-size="9.6" fill="#000" stroke="#000" stroke-width="0.18" text-anchor="start" textLength="54.5" lengthAdjust="spacingAndGlyphs">26 Sep 16:00</text>
<rect x="389" y="545" width="1" height="3" fill="#000"/>
<text x="388" y="557" font-size="9.6" fill="#000" stroke="#000" stroke-width="0.18" text-anchor="start" textLength="49.5" lengthAdjust="spacingAndGlyphs">1 Oct 08:00</text>
<rect x="453" y="545" width="1" height="3" fill="#000"/>
<text x="452" y="557" font-size="9.6" fill="#000" stroke="#000" stroke-width="0.18" text-anchor="start" textLength="49.5" lengthAdjust="spacingAndGlyphs">6 Oct 00:00</text>
<rect x="517" y="545" width="1" height="3" fill="#000"/>
<text x="516" y="557" font-size="9.6" fill="#000" stroke="#000" stroke-width="0.18" text-anchor="start" textLength="49.5" lengthAdjust="spacingAndGlyphs">8 Oct 16:00</text>
<rect x="581" y="545" width="1" height="3" fill="#000"/>
<text x="580" y="557" font-size="9.6" fill="#000" stroke="#000" stroke-width="0.18" text-anchor="start" textLength="54.5" lengthAdjust="spacingAndGlyphs">13 Oct 08:00</text>
<rect x="645" y="545" width="1" height="3" fill="#000"/>
<text x="644" y="557" font-size="9.6" fill="#000" stroke="#000" stroke-width="0.18" text-anchor="start" textLength="54.5" lengthAdjust="spacingAndGlyphs">16 Oct 00:00</text>
<rect x="709" y="545" width="1" height="3" fill="#000"/>
<text x="708" y="557" font-size="9.6" fill="#000" stroke="#000" stroke-width="0.18" text-anchor="start" textLength="54.5" lengthAdjust="spacingAndGlyphs">20 Oct 16:00</text>
<rect x="773" y="545" width="1" height="3" fill="#000"/>
<text x="772" y="557" font-size="9.6" fill="#000" stroke="#000" stroke-width="0.18" text-anchor="start" textLength="54.5" lengthAdjust="spacingAndGlyphs">23 Oct 08:00</text>
<rect x="837" y="545" width="1" height="3" fill="#000"/>
<text x="836" y="557" font-size="9.6" fill="#000" stroke="#000" stroke-width="0.18" text-anchor="start" textLength="54.5" lengthAdjust="spacingAndGlyphs">28 Oct 00:00</text>
<rect x="901" y="545" width="1" height="3" fill="#000"/>
<text x="900" y="557" font-size="9.6" fill="#000" stroke="#000" stroke-width="0.18" text-anchor="start" textLength="54.5" lengthAdjust="spacingAndGlyphs">30 Oct 16:00</text>
<rect x="965" y="545" width="1" height="3" fill="#000"/>
<text x="964" y="557" font-size="9.6" fill="#000" stroke="#000" stroke-width="0.18" text-anchor="start" textLength="52.2" lengthAdjust="spacingAndGlyphs">4 Nov 08:00</text>
<rect x="1029" y="545" width="1" height="3" fill="#000"/>
<text x="1028" y="557" font-size="9.6" fill="#000" stroke="#000" stroke-width="0.18" text-anchor="start" textLength="52.2" lengthAdjust="spacingAndGlyphs">7 Nov 00:00</text>
<text x="20" y="16" font-size="9.6" fill="#000" stroke="#000" stroke-width="0.18" text-anchor="start" textLength="53.5" lengthAdjust="spacingAndGlyphs">XAUUSD,H4</text><text x="80" y="16" font-size="9.6" fill="#000" stroke="#000" stroke-width="0.18" text-anchor="start" textLength="32.5" lengthAdjust="spacingAndGlyphs">4000.35</text><text x="115.5" y="16" font-size="9.6" fill="#000" stroke="#000" stroke-width="0.18" text-anchor="start" textLength="32.5" lengthAdjust="spacingAndGlyphs">4053.04</text><text x="151.7" y="16" font-size="9.6" fill="#000" stroke="#000" stroke-width="0.18" text-anchor="start" textLength="32.5" lengthAdjust="spacingAndGlyphs">4000.35</text><text x="187.5" y="16" font-size="9.6" fill="#000" stroke="#000" stroke-width="0.18" text-anchor="start" textLength="32.5" lengthAdjust="spacingAndGlyphs">4044.21</text>
<text x="9" y="479" font-size="9.6" fill="#000" stroke="#000" stroke-width="0.18" text-anchor="start" textLength="112" lengthAdjust="spacingAndGlyphs">Sto(5,3,3) 67.3132 61.1372</text>
</g>
</svg>
</body></html>
